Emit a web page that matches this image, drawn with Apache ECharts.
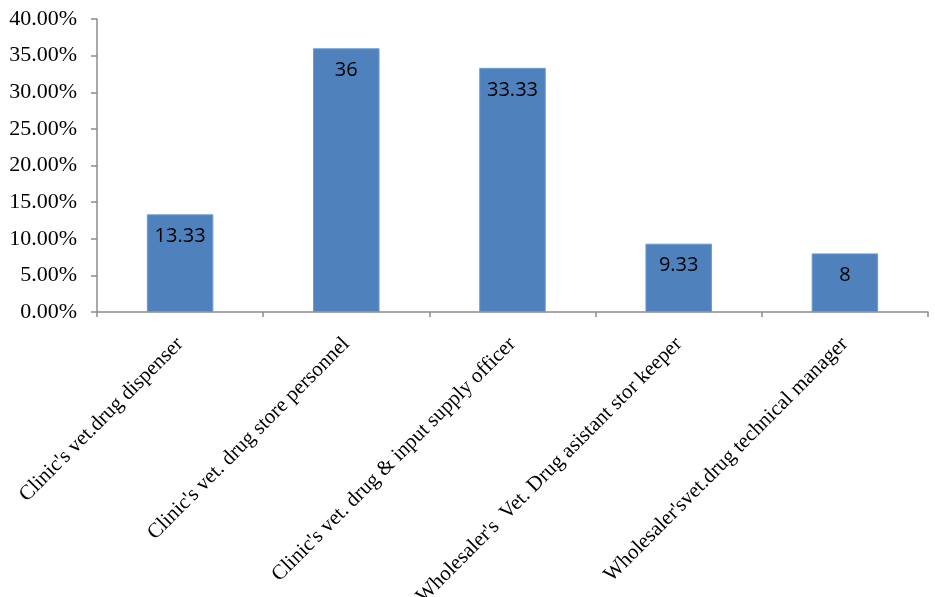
<!DOCTYPE html>
<html>
<head>
<meta charset="utf-8">
<script src="https://cdn.jsdelivr.net/npm/echarts@6/dist/echarts.min.js"></script>
<style>
html,body{margin:0;padding:0;background:#fff;}
#c{width:935px;height:597px;}
</style>
</head>
<body>
<div id="c"></div>
<script>
var categories = [
  "Clinic's vet.drug dispenser",
  "Clinic's vet. drug store personnel",
  "Clinic's vet. drug & input supply officer",
  "Wholesaler's  Vet. Drug asistant stor keeper",
  "Wholesaler'svet.drug technical manager"
];
var values = [13.33, 36, 33.33, 9.33, 8];
var yTicks = [0, 5, 10, 15, 20, 25, 30, 35, 40];

var chart = echarts.init(document.getElementById('c'), null, {renderer: 'canvas'});
chart.setOption({
  animation: false,
  backgroundColor: '#ffffff',
  grid: {left: 97, right: 7, top: 19, bottom: 285, containLabel: false, outerBoundsMode: 'none'},
  xAxis: {
    type: 'category',
    data: categories,
    axisLine: {lineStyle: {color: '#8c8c8c', width: 1.5}},
    axisTick: {show: true, alignWithLabel: false, length: 5, lineStyle: {color: '#8c8c8c', width: 1.5}},
    axisLabel: {
      interval: 0,
      rotate: 45,
      margin: 29,
      color: '#000',
      fontFamily: 'Liberation Serif',
      fontSize: 21
    }
  },
  yAxis: {
    type: 'value',
    min: yTicks[0],
    max: yTicks[yTicks.length - 1],
    interval: 5,
    splitLine: {show: false},
    axisLine: {show: true, lineStyle: {color: '#8c8c8c', width: 1.5}},
    axisTick: {show: true, length: 6, lineStyle: {color: '#8c8c8c', width: 1.5}},
    axisLabel: {
      margin: 20,
      color: '#000',
      fontFamily: 'Liberation Serif',
      fontSize: 22,
      formatter: function (v) { return v.toFixed(2) + '%'; }
    }
  },
  series: [{
    type: 'bar',
    data: values,
    barWidth: '40%',
    itemStyle: {color: '#4F81BD', borderColor: '#6a9ad6', borderWidth: 1},
    label: {
      show: true,
      position: 'insideTop',
      distance: 12,
      color: '#000',
      fontFamily: 'Open Sans',
      fontSize: 20,
      formatter: function (p) { return String(p.value); }
    }
  }]
});
</script>
</body>
</html>
